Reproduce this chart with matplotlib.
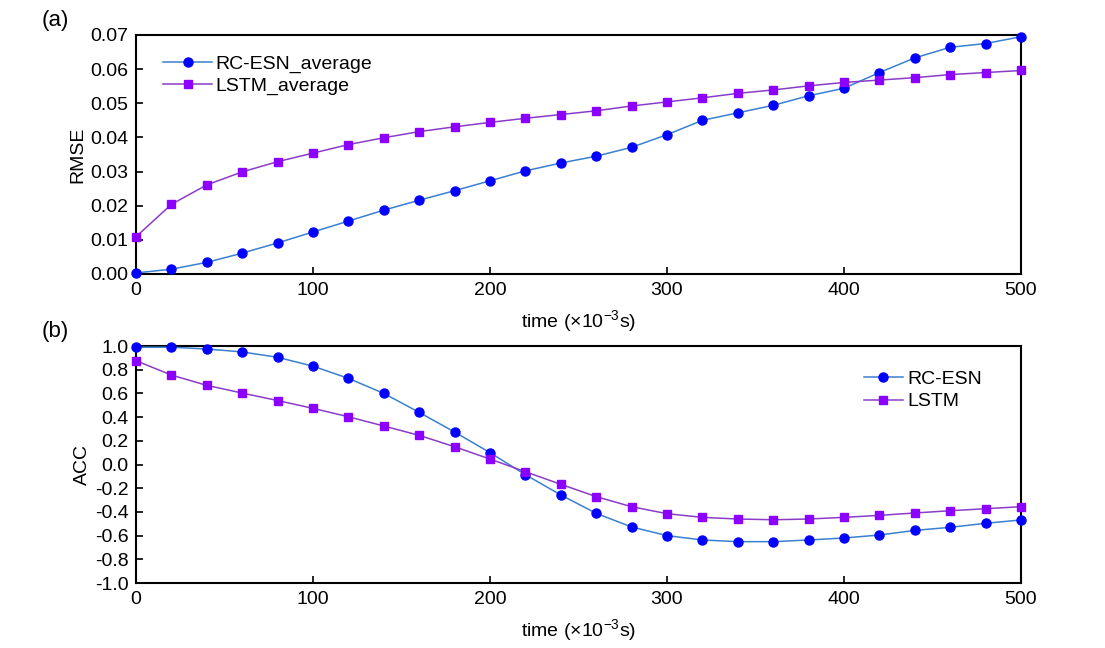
import numpy as np
import matplotlib
matplotlib.use('Agg')
import matplotlib.pyplot as plt

plt.rcParams['font.family'] = ['Liberation Sans', 'DejaVu Sans']
plt.rcParams['mathtext.fontset'] = 'custom'
plt.rcParams['mathtext.rm'] = 'Liberation Sans'
plt.rcParams['mathtext.it'] = 'Liberation Sans:italic'

# time steps (x10^-3 s)
t = np.arange(0, 501, 20)

# (a) RMSE
rmse_esn = [0.0003, 0.0014, 0.0034, 0.0061, 0.0091, 0.0123, 0.0155, 0.0187, 0.0216, 0.0244,
            0.0273, 0.0302, 0.0325, 0.0345, 0.0371, 0.0408, 0.0450, 0.0472, 0.0494, 0.0522,
            0.0544, 0.0590, 0.0633, 0.0664, 0.0675, 0.0695]
rmse_lstm = [0.0109, 0.0204, 0.0261, 0.0299, 0.0329, 0.0354, 0.0379, 0.0399, 0.0417, 0.0431,
             0.0444, 0.0456, 0.0467, 0.0478, 0.0492, 0.0504, 0.0516, 0.0529, 0.0539, 0.0551,
             0.0561, 0.0568, 0.0575, 0.0584, 0.0590, 0.0596]

# (b) ACC
acc_esn = [0.99, 0.99, 0.975, 0.95, 0.905, 0.83, 0.727, 0.60, 0.44, 0.274,
           0.10, -0.086, -0.257, -0.412, -0.527, -0.60, -0.637, -0.651, -0.651, -0.637,
           -0.62, -0.595, -0.556, -0.53, -0.496, -0.468]
acc_lstm = [0.876, 0.755, 0.668, 0.603, 0.54, 0.474, 0.403, 0.325, 0.246, 0.15,
            0.046, -0.061, -0.167, -0.271, -0.356, -0.415, -0.446, -0.46, -0.466, -0.46,
            -0.446, -0.429, -0.409, -0.39, -0.373, -0.356]

esn_line = '#3a80d0'
esn_mark = '#0000ff'
lstm_line = '#8a3cc8'
lstm_mark = '#8c00ff'

fs = 14

fig = plt.figure(figsize=(11.05, 6.48), dpi=100)
ax1 = fig.add_axes([0.1231, 0.5772, 0.8009, 0.3688])
ax2 = fig.add_axes([0.1231, 0.1003, 0.8009, 0.3657])

ax1.plot(t, rmse_esn, '-o', color=esn_line, mfc=esn_mark, mec=esn_mark, ms=6.5, lw=1.1,
         label='RC-ESN_average', clip_on=False, zorder=3)
ax1.plot(t, rmse_lstm, '-s', color=lstm_line, mfc=lstm_mark, mec=lstm_mark, ms=6, lw=1.1,
         label='LSTM_average', clip_on=False, zorder=3)
ax1.set_xlim(0, 500)
ax1.set_ylim(0, 0.07)
ax1.set_yticks(np.arange(0, 0.0701, 0.01))
ax1.set_yticklabels(['%.2f' % v for v in np.arange(0, 0.0701, 0.01)])
ax1.set_ylabel('RMSE', fontsize=fs, labelpad=3)
ax1.legend(loc='upper left', frameon=False, fontsize=fs, handlelength=2.5,
           handletextpad=0.2, labelspacing=0.25, borderaxespad=0.0,
           bbox_to_anchor=(0.022, 0.95))

ax2.plot(t, acc_esn, '-o', color=esn_line, mfc=esn_mark, mec=esn_mark, ms=6.5, lw=1.1,
         label='RC-ESN', clip_on=False, zorder=3)
ax2.plot(t, acc_lstm, '-s', color=lstm_line, mfc=lstm_mark, mec=lstm_mark, ms=6, lw=1.1,
         label='LSTM', clip_on=False, zorder=3)
ax2.set_xlim(0, 500)
ax2.set_ylim(-1.0, 1.0)
ax2.set_yticks(np.arange(-1.0, 1.01, 0.2))
ax2.set_yticklabels(['%.1f' % v if abs(v) > 1e-9 else '0.0' for v in np.arange(-1.0, 1.01, 0.2)])
ax2.set_ylabel('ACC', fontsize=fs, labelpad=3)
ax2.legend(loc='upper right', frameon=False, fontsize=fs, handlelength=2.0,
           handletextpad=0.25, labelspacing=0.25, borderaxespad=0.0,
           bbox_to_anchor=(0.965, 0.93))

for ax in (ax1, ax2):
    ax.set_xticks([0, 100, 200, 300, 400, 500])
    ax.set_xlabel(r'time ($\times$10$^{-3}$s)', fontsize=fs, labelpad=7)
    ax.tick_params(direction='in', length=5, width=1.2, labelsize=fs, pad=5.5)
    for s in ax.spines.values():
        s.set_linewidth(1.5)

fig.text(0.038, 0.969, '(a)', fontsize=16, ha='left', va='center')
fig.text(0.038, 0.488, '(b)', fontsize=16, ha='left', va='center')

fig.savefig('out.png', dpi=100, facecolor='white')
